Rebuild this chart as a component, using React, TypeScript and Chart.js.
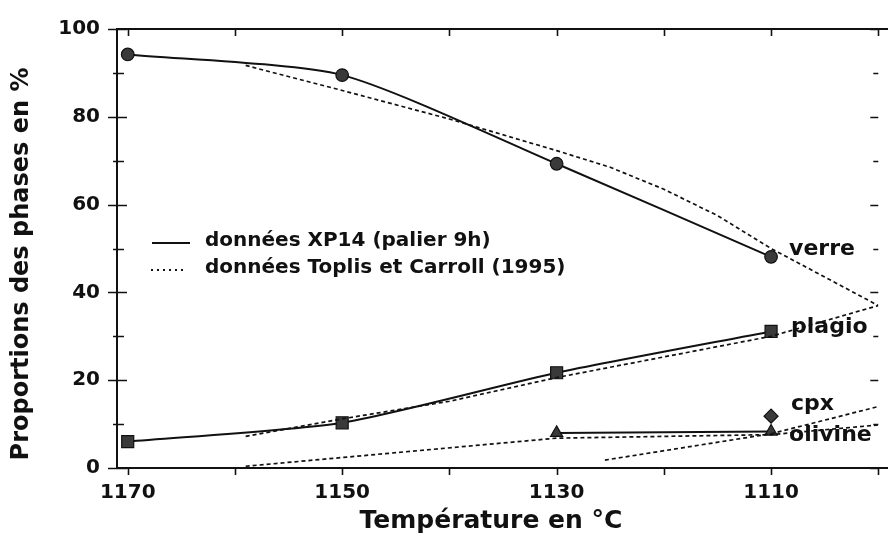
import React, { useEffect, useRef } from "react";
import { Chart, registerables } from "chart.js";

Chart.register(...registerables);

// ---- axes ----
const X_MIN = 1100;
const X_MAX = 1171;
const X_LABELED_TICKS = [1170, 1150, 1130, 1110];
const X_MINOR_TICKS = [1170, 1160, 1150, 1140, 1130, 1120, 1110, 1100];
const Y_LABELED_TICKS = [0, 20, 40, 60, 80, 100];
const Y_MINOR_TICKS = [0, 10, 20, 30, 40, 50, 60, 70, 80, 90, 100];
const X_TITLE = "Température en °C";
const Y_TITLE = "Proportions des phases en %";

// ---- données XP14 (palier 9h) ----
const xpTemps = [1170, 1150, 1130, 1110];
const xpVerre = [94.2, 89.5, 69.3, 48.1];
const xpPlagio = [6.0, 10.3, 21.7, 31.1];
const xpOlivineTemps = [1130, 1110];
const xpOlivine = [8.0, 8.3];
const xpCpxTemps = [1110];
const xpCpx = [11.8];

// ---- données Toplis et Carroll (1995) ----
const tcVerreTemps = [1159, 1150, 1140, 1130, 1125, 1120, 1115, 1110, 1100];
const tcVerre = [91.7, 86.0, 79.5, 72.3, 68.5, 63.5, 57.5, 50.0, 37.0];
const tcPlagioTemps = [1159, 1150, 1140, 1130, 1120, 1110, 1100];
const tcPlagio = [7.2, 11.2, 15.2, 20.6, 25.3, 30.0, 37.0];
const tcOlivineTemps = [1159, 1130, 1110, 1100];
const tcOlivine = [0.4, 6.8, 7.6, 9.8];
const tcCpxTemps = [1125.5, 1110, 1100];
const tcCpx = [1.8, 7.8, 14.0];

// ---- texts ----
const PHASE_LABELS = ["verre", "plagio", "cpx", "olivine"];
const LEGEND_LABELS = ["données XP14 (palier 9h)", "données Toplis et Carroll (1995)"];

const FONT = "DejaVu Sans";

const pts = (xs: number[], ys: number[]) => xs.map((x, i) => ({ x, y: ys[i] }));

const MARK_FILL = "#3a3a3a";
const INK = "#111";

const decorPlugin = {
  id: "decor",
  afterDraw(chart: any) {
    const { ctx, chartArea: ca, scales } = chart;
    const xs = scales.x;
    const ys = scales.y;
    const W = chart.width;
    ctx.save();
    ctx.strokeStyle = INK;
    ctx.fillStyle = INK;
    // frame
    ctx.lineWidth = 2;
    ctx.beginPath();
    ctx.moveTo(ca.left, ca.top);
    ctx.lineTo(W, ca.top);
    ctx.moveTo(ca.left, ca.top - 1);
    ctx.lineTo(ca.left, ca.bottom + 1);
    ctx.moveTo(ca.left, ca.bottom);
    ctx.lineTo(W, ca.bottom);
    ctx.stroke();
    // x ticks (bottom outward, top inward)
    ctx.lineWidth = 1.6;
    ctx.beginPath();
    X_MINOR_TICKS.forEach((v) => {
      const px = Math.round(xs.getPixelForValue(v)) + 0.5;
      ctx.moveTo(px, ca.bottom);
      ctx.lineTo(px, ca.bottom + 7);
      ctx.moveTo(px, ca.top);
      ctx.lineTo(px, ca.top + 7);
    });
    // y ticks (left crossing, right inward)
    Y_MINOR_TICKS.forEach((v) => {
      const py = Math.round(ys.getPixelForValue(v)) + 0.5;
      const major = v % 20 === 0;
      ctx.moveTo(ca.left - (major ? 9 : 4), py);
      ctx.lineTo(ca.left + (major ? 10 : 7), py);
      ctx.moveTo(ca.right - (major ? 8 : 5), py);
      ctx.lineTo(ca.right, py);
    });
    ctx.stroke();

    // legend
    ctx.lineWidth = 2;
    ctx.beginPath();
    ctx.moveTo(152, 243);
    ctx.lineTo(190, 243);
    ctx.stroke();
    ctx.setLineDash([2, 4]);
    ctx.beginPath();
    ctx.moveTo(151, 270);
    ctx.lineTo(183, 270);
    ctx.stroke();
    ctx.setLineDash([]);
    ctx.font = `bold 20px '${FONT}'`;
    ctx.textAlign = "left";
    ctx.textBaseline = "middle";
    ctx.fillText(LEGEND_LABELS[0], 205, 241);
    ctx.fillText(LEGEND_LABELS[1], 205, 268);

    // phase labels next to the last XP14 points
    ctx.font = `bold 22px '${FONT}'`;
    const lx = xs.getPixelForValue(1110) + 18;
    ctx.fillText(PHASE_LABELS[0], lx, ys.getPixelForValue(xpVerre[3]) - 8);
    ctx.fillText(PHASE_LABELS[1], lx + 2, ys.getPixelForValue(xpPlagio[3]) - 4);
    ctx.fillText(PHASE_LABELS[2], lx + 2, ys.getPixelForValue(xpCpx[0]) - 12);
    ctx.fillText(PHASE_LABELS[3], lx, ys.getPixelForValue(xpOlivine[1]) + 4);

    // axis titles
    ctx.font = `bold 25px '${FONT}'`;
    ctx.textAlign = "center";
    ctx.fillText(X_TITLE, 491, 521);
    ctx.save();
    ctx.translate(22, 264);
    ctx.rotate(-Math.PI / 2);
    ctx.font = `bold 24px '${FONT}'`;
    ctx.fillText(Y_TITLE, 0, 0);
    ctx.restore();
    ctx.restore();
  },
};

export default function App() {
  const ref = useRef<HTMLCanvasElement | null>(null);
  useEffect(() => {
    if (!ref.current) return;
    const solid = { borderColor: INK, borderWidth: 2, pointBackgroundColor: MARK_FILL, pointBorderColor: INK, pointBorderWidth: 1.2, tension: 0.22 };
    const dashed = { borderColor: INK, borderWidth: 1.7, borderDash: [4, 3], pointRadius: 0, tension: 0 };
    const chart = new Chart(ref.current, {
      type: "line",
      data: {
        datasets: [
          { ...dashed, label: "tc verre", data: pts(tcVerreTemps, tcVerre) },
          { ...dashed, label: "tc plagio", data: pts(tcPlagioTemps, tcPlagio) },
          { ...dashed, label: "tc olivine", data: pts(tcOlivineTemps, tcOlivine) },
          { ...dashed, label: "tc cpx", data: pts(tcCpxTemps, tcCpx) },
          { ...solid, label: "verre", data: pts(xpTemps, xpVerre), pointStyle: "circle", pointRadius: 6.3 },
          { ...solid, label: "plagio", data: pts(xpTemps, xpPlagio), pointStyle: "rect", pointRadius: 8.5 },
          { ...solid, label: "olivine", data: pts(xpOlivineTemps, xpOlivine), pointStyle: "triangle", pointRadius: 7 },
          { ...solid, label: "cpx", data: pts(xpCpxTemps, xpCpx), pointStyle: "rectRot", pointRadius: 7, showLine: false },
        ],
      },
      options: {
        animation: false,
        responsive: false,
        devicePixelRatio: 1,
        layout: { padding: { top: 20, right: 2, bottom: 0, left: 0 } },
        plugins: { legend: { display: false }, tooltip: { enabled: false }, title: { display: false } },
        scales: {
          x: {
            type: "linear",
            reverse: true,
            min: X_MIN,
            max: X_MAX,
            grid: { display: false, drawTicks: false },
            border: { display: false },
            afterBuildTicks: (s: any) => {
              s.ticks = X_LABELED_TICKS.map((v) => ({ value: v }));
            },
            afterFit: (s: any) => {
              s.height = 73;
            },
            ticks: {
              autoSkip: false,
              maxRotation: 0,
              padding: 13,
              color: INK,
              font: { family: FONT, size: 20, weight: "bold" },
              callback: (v: any) => String(v),
            },
          },
          y: {
            type: "linear",
            min: 0,
            max: 100,
            grid: { display: false, drawTicks: false },
            border: { display: false },
            afterBuildTicks: (s: any) => {
              s.ticks = Y_LABELED_TICKS.map((v) => ({ value: v }));
            },
            afterFit: (s: any) => {
              s.width = 117;
            },
            ticks: {
              padding: 17,
              color: INK,
              font: { family: FONT, size: 20, weight: "bold" },
            },
          },
        },
      },
      plugins: [decorPlugin],
    });
    return () => chart.destroy();
  }, []);
  return (
    <div style={{ position: "absolute", left: 0, top: 0, width: 888, height: 541, background: "#fff" }}>
      <canvas ref={ref} width={888} height={541} style={{ display: "block" }} />
    </div>
  );
}
